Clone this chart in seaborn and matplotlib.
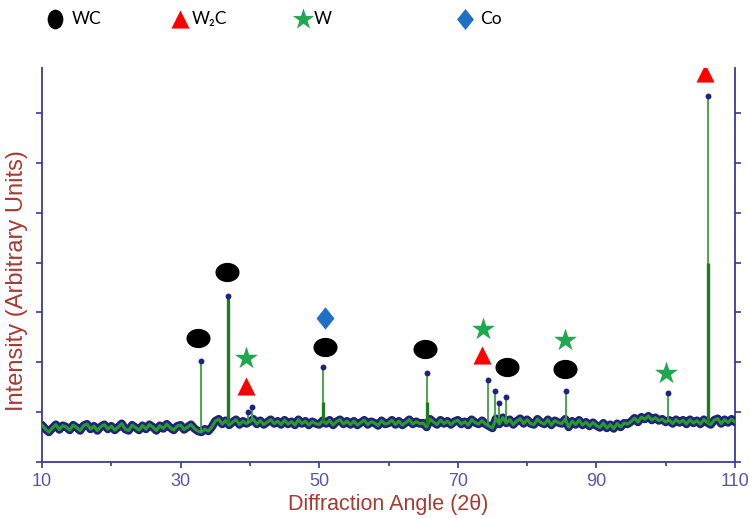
import numpy as np
import pandas as pd
import matplotlib
matplotlib.use("Agg")
import matplotlib.pyplot as plt
from matplotlib.path import Path
from matplotlib.ticker import MultipleLocator
import seaborn as sns

# ---------------- data ----------------
# background (noisy baseline) read every 0.5 degree, 10 .. 110
base_angle = np.arange(10.0, 110.01, 0.5)
base_intensity = [
    0.74, 0.66, 0.60, 0.68, 0.75, 0.65, 0.73, 0.70, 0.64, 0.74,
    0.69, 0.63, 0.73, 0.76, 0.66, 0.72, 0.63, 0.71, 0.75, 0.66,
    0.72, 0.64, 0.70, 0.77, 0.66, 0.63, 0.74, 0.69, 0.64, 0.73,
    0.66, 0.75, 0.70, 0.63, 0.73, 0.67, 0.76, 0.69, 0.64, 0.72,
    0.74, 0.65, 0.70, 0.75, 0.67, 0.62, 0.60, 0.66, 0.62, 0.70,
    0.82, 0.86, 0.76, 0.83, 0.74, 0.80, 0.85, 0.75, 0.82, 0.77,
    0.81, 0.86, 0.76, 0.83, 0.75, 0.80, 0.85, 0.77, 0.82, 0.75,
    0.84, 0.76, 0.81, 0.74, 0.85, 0.77, 0.82, 0.74, 0.81, 0.77,
    0.75, 0.83, 0.77, 0.84, 0.74, 0.81, 0.85, 0.76, 0.82, 0.75,
    0.82, 0.74, 0.79, 0.84, 0.75, 0.81, 0.78, 0.73, 0.83, 0.76,
    0.78, 0.84, 0.75, 0.82, 0.74, 0.79, 0.85, 0.76, 0.81, 0.77,
    0.78, 0.70, 0.86, 0.80, 0.75, 0.84, 0.77, 0.82, 0.75, 0.81,
    0.84, 0.76, 0.81, 0.74, 0.85, 0.79, 0.76, 0.83, 0.76, 0.72,
    0.68, 0.87, 0.76, 0.89, 0.78, 0.85, 0.75, 0.82, 0.87, 0.77,
    0.85, 0.77, 0.75, 0.86, 0.79, 0.76, 0.85, 0.74, 0.83, 0.79,
    0.77, 0.86, 0.70, 0.82, 0.75, 0.84, 0.74, 0.80, 0.72, 0.79,
    0.73, 0.69, 0.78, 0.68, 0.75, 0.67, 0.77, 0.70, 0.78, 0.76,
    0.81, 0.88, 0.80, 0.90, 0.86, 0.92, 0.84, 0.89, 0.83, 0.86,
    0.80, 0.84, 0.77, 0.85, 0.79, 0.84, 0.76, 0.85, 0.78, 0.83,
    0.76, 0.85, 0.79, 0.75, 0.84, 0.87, 0.77, 0.85, 0.79, 0.86,
    0.80,
]

# diffraction peaks
peak_angle = [32.9, 36.8, 39.7, 40.3, 50.6, 65.6, 74.4, 75.4, 75.9, 76.9, 85.6, 100.3, 106.1]
peak_top = [2.02, 3.32, 1.00, 1.10, 1.90, 1.78, 1.64, 1.42, 1.18, 1.30, 1.42, 1.38, 7.34]
peak_core = [0.0, 3.32, 0.0, 0.0, 1.20, 1.20, 0.0, 0.0, 0.0, 0.0, 0.0, 0.0, 4.00]

# phase identification symbols
wc_angle = [32.5, 36.7, 50.9, 65.3, 77.1, 85.4]
wc_level = [2.48, 3.80, 2.30, 2.26, 1.90, 1.86]
w2c_angle = [39.5, 73.5, 105.7]
w2c_level = [1.52, 2.14, 7.80]
w_angle = [39.4, 73.7, 85.5, 100.1]
w_level = [2.08, 2.66, 2.44, 1.78]
co_angle = [50.9]
co_level = [2.88]

legend_labels = ["WC", "W\u2082C", "W", "Co"]

x_ticks = [10, 30, 50, 70, 90, 110]
x_label = "Diffraction Angle (2\u03b8)"
y_label = "Intensity (Arbitrary Units)"

# ---------------- style ----------------
sns.set_theme(style="white")
plt.rcParams["font.family"] = ["Liberation Sans", "DejaVu Sans"]

NAVY = "#1f237a"
AXIS = "#3a3a9a"
TICKLAB = "#5558a8"
LABEL = "#a83a32"
GREEN_THIN = "#3aa23a"
GREEN_DARK = "#1d7d1d"

circle = Path.unit_circle()
ellipse_wide = Path(circle.vertices * np.array([1.25, 1.0]), circle.codes)
ellipse_tall = Path(circle.vertices * np.array([0.8, 1.0]), circle.codes)
diamond = Path([(0, 1), (0.8, 0), (0, -1), (-0.8, 0), (0, 1)],
               [Path.MOVETO, Path.LINETO, Path.LINETO, Path.LINETO, Path.CLOSEPOLY])

fig = plt.figure(figsize=(7.5, 5.18), dpi=100)
ax = fig.add_axes([42 / 750, 1 - 462 / 518, (735 - 42) / 750, (462 - 68) / 518])

base_df = pd.DataFrame({"angle": base_angle, "intensity": base_intensity})

# baseline: thick navy outline with green core
sns.lineplot(data=base_df, x="angle", y="intensity", ax=ax, color=NAVY,
             linewidth=6.0, zorder=3, estimator=None)
sns.lineplot(data=base_df, x="angle", y="intensity", ax=ax, color="#2a9a2a",
             linewidth=2.2, zorder=4, estimator=None)

# peaks
peak_base = np.interp(peak_angle, base_angle, base_intensity)
ax.vlines(peak_angle, peak_base, peak_top, color=GREEN_THIN, linewidth=1.3, zorder=5)
core_x = [a for a, c in zip(peak_angle, peak_core) if c > 0]
core_b = [b for b, c in zip(peak_base, peak_core) if c > 0]
core_t = [c for c in peak_core if c > 0]
ax.vlines(core_x, core_b, core_t, color=GREEN_DARK, linewidth=2.4, zorder=5)
sns.scatterplot(x=peak_angle, y=peak_top, ax=ax, color=NAVY, s=18, marker="o",
                edgecolor=NAVY, linewidth=0, zorder=6)

# phase symbols
sns.scatterplot(x=wc_angle, y=wc_level, ax=ax, marker=ellipse_wide, s=300,
                color="black", edgecolor="black", linewidth=0, zorder=7)
sns.scatterplot(x=w2c_angle, y=w2c_level, ax=ax, marker="^", s=170,
                color="#ff0000", edgecolor="#ff0000", linewidth=0, zorder=7)
sns.scatterplot(x=w_angle, y=w_level, ax=ax, marker="*", s=300,
                color="#1fa84f", edgecolor="#1fa84f", linewidth=0, zorder=7)
sns.scatterplot(x=co_angle, y=co_level, ax=ax, marker=diamond, s=260,
                color="#1f6fc5", edgecolor="#1f6fc5", linewidth=0, zorder=7)

# axes styling
ax.set_xlim(10, 110)
ax.set_ylim(0.0, 7.9)
ax.set_xticks(x_ticks)
ax.xaxis.set_minor_locator(MultipleLocator(10))
ax.yaxis.set_major_locator(MultipleLocator(1))
ax.set_yticklabels([])
ax.tick_params(axis="x", which="both", direction="out", length=4, width=1.2,
               color=AXIS, bottom=True, labelsize=13, labelcolor=TICKLAB, pad=4)
ax.tick_params(axis="x", which="minor", length=3)
ax.tick_params(axis="y", direction="out", length=4, width=1.2, color=AXIS,
               left=True, right=True, labelleft=False)
for side in ["left", "right", "bottom"]:
    ax.spines[side].set_color(AXIS)
    ax.spines[side].set_linewidth(1.3)
ax.spines["top"].set_visible(False)

ax.set_xlabel(x_label, fontsize=15.5, color=LABEL, labelpad=3)
ax.set_ylabel(y_label, fontsize=17, color=LABEL)
ax.yaxis.set_label_coords(-0.02, 0.46)

# legend row above the plot (overlay axes in pixel coordinates)
lax = fig.add_axes([0, 0, 1, 1], facecolor="none")
lax.set_xlim(0, 750)
lax.set_ylim(518, 0)
lax.axis("off")
leg_marker_x = [55, 180, 303, 465]
leg_text_x = [72, 192, 314, 480]
leg_y = 19
leg_markers = [ellipse_tall, "^", "*", diamond]
leg_colors = ["black", "#ff0000", "#1fa84f", "#1f6fc5"]
leg_sizes = [200, 170, 260, 230]
for mx, tx, lab, mk, col, sz in zip(leg_marker_x, leg_text_x, legend_labels,
                                     leg_markers, leg_colors, leg_sizes):
    lax.scatter([mx], [leg_y], marker=mk, s=sz, color=col, linewidths=0)
    lax.text(tx, leg_y, lab, fontsize=12.5, color="black", va="center", ha="left",
             family=["Lato", "DejaVu Sans"])

fig.savefig("out.png", dpi=100)
